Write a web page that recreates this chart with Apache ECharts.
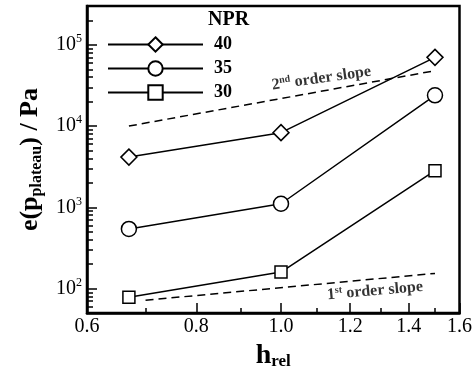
<!DOCTYPE html>
<html>
<head>
<meta charset="utf-8">
<script src="https://cdn.jsdelivr.net/npm/echarts@6/dist/echarts.min.js"></script>
<style>html,body{margin:0;padding:0;background:#fff}#c{width:475px;height:375px}</style>
</head>
<body>
<div id="c"></div>
<script>
// ---- data ----
const hRel = [0.67, 1.0, 1.5];
const npr40 = [4150, 8300, 70000];
const npr35 = [543, 1107, 23900];
const npr30 = [78.5, 160, 2830];
const slope2X = [0.67, 1.5];
const slope2Y = [10000, 48000];
const slope1X = [0.7, 1.5];
const slope1Y = [72, 154];
const xTicks = [0.6, 0.8, 1.0, 1.2, 1.4, 1.6];
const xMinorTicks = [0.7, 0.9, 1.1, 1.3, 1.5];
const yTicks = [100, 1000, 10000, 100000];
const xRange = [0.6, 1.6];
const yRange = [50, 300000];
const legendNames = ['40', '35', '30'];
// annotation anchors (data coords) for the slope texts
const noteX = [1.112, 1.281];
const noteY = [38500, 93.7];

const L = Math.log10;
const F = 'Liberation Serif';
const yMinorTicks = [];
for (let d = 10; d <= 100000; d *= 10) {
  for (let k = 2; k <= 9; k++) {
    const v = k * d;
    if (v > yRange[0] && v < yRange[1]) yMinorTicks.push(v);
  }
}
const pts = (xs, ys) => xs.map((x, i) => [L(x), L(ys[i])]);

const lineSeries = (name, ys, symbol, size) => ({
  name: name, type: 'line', data: pts(hRel, ys),
  symbol: symbol, symbolSize: size, showSymbol: true,
  lineStyle: {color: '#000', width: 1.5},
  itemStyle: {color: '#fff', borderColor: '#000', borderWidth: 1.5},
  z: 3
});
const dashSeries = (xs, ys) => ({
  type: 'line', data: pts(xs, ys), symbol: 'none', silent: true,
  lineStyle: {color: '#000', width: 1.5, type: [8, 5]}, z: 2
});

const chart = echarts.init(document.getElementById('c'));
chart.setOption({
  animation: false,
  backgroundColor: '#fff',
  title: {
    text: 'NPR', left: 208, top: 10, padding: 0,
    textStyle: {fontFamily: F, fontSize: 20, fontWeight: 'bold', color: '#000'}
  },
  legend: {
    orient: 'vertical', left: 107, top: 35.5, padding: 0,
    itemWidth: 95, itemHeight: 18, itemGap: 6, selectedMode: false,
    data: legendNames,
    textStyle: {fontFamily: F, fontSize: 18, fontWeight: 'bold', color: '#000', lineHeight: 18, padding: [0, 0, 0, 6]}
  },
  grid: {left: 87, right: 13, top: 6, bottom: 59, show: true, borderColor: '#000', borderWidth: 2.5},
  xAxis: [{
    type: 'value', min: L(xRange[0]), max: L(xRange[1]),
    axisLine: {show: true, onZero: false, lineStyle: {color: '#000', width: 2.5}},
    splitLine: {show: false},
    axisTick: {show: true, inside: true, length: 10, customValues: xTicks.map(L), lineStyle: {color: '#000', width: 1.5}},
    axisLabel: {show: true, customValues: xTicks.map(L), margin: 4,
      formatter: v => Math.pow(10, v).toFixed(1), color: '#000', fontFamily: F, fontSize: 20},
    name: '{m|h}{s|rel}', nameLocation: 'middle', nameGap: 15,
    nameTextStyle: {rich: {
      m: {fontFamily: F, fontSize: 28, fontWeight: 'bold', color: '#000', lineHeight: 28},
      s: {fontFamily: F, fontSize: 17, fontWeight: 'bold', color: '#000', verticalAlign: 'bottom', lineHeight: 17}
    }}
  }, {
    type: 'value', min: L(xRange[0]), max: L(xRange[1]), position: 'bottom',
    axisLine: {show: false, onZero: false}, splitLine: {show: false}, axisLabel: {show: false},
    axisTick: {show: true, inside: true, length: 5, customValues: xMinorTicks.map(L), lineStyle: {color: '#000', width: 1.5}}
  }],
  yAxis: [{
    type: 'value', min: L(yRange[0]), max: L(yRange[1]),
    axisLine: {show: true, onZero: false, lineStyle: {color: '#000', width: 2.5}},
    splitLine: {show: false},
    axisTick: {show: true, inside: true, length: 10, customValues: yTicks.map(L), lineStyle: {color: '#000', width: 1.5}},
    axisLabel: {show: true, customValues: yTicks.map(L), margin: 5,
      formatter: v => '{m|10}{s|' + Math.round(v) + '}',
      rich: {
        m: {fontFamily: F, fontSize: 20, color: '#000', lineHeight: 24},
        s: {fontFamily: F, fontSize: 12, color: '#000', verticalAlign: 'top', lineHeight: 12}
      }},
    name: '{m|e(p}{s|plateau}{m|) / Pa}', nameLocation: 'middle', nameGap: 42,
    nameTextStyle: {rich: {
      m: {fontFamily: F, fontSize: 26, fontWeight: 'bold', color: '#000', lineHeight: 30},
      s: {fontFamily: F, fontSize: 16, fontWeight: 'bold', color: '#000', verticalAlign: 'bottom', lineHeight: 16}
    }}
  }, {
    type: 'value', min: L(yRange[0]), max: L(yRange[1]), position: 'left',
    axisLine: {show: false, onZero: false}, splitLine: {show: false}, axisLabel: {show: false},
    axisTick: {show: true, inside: true, length: 6, customValues: yMinorTicks.map(L), lineStyle: {color: '#000', width: 1.5}}
  }],
  series: [
    lineSeries('40', npr40, 'diamond', 16),
    lineSeries('35', npr35, 'circle', 15),
    lineSeries('30', npr30, 'rect', 12),
    dashSeries(slope2X, slope2Y),
    dashSeries(slope1X, slope1Y),
    {
      type: 'scatter', symbolSize: 0, silent: true, z: 4,
      data: [
        {value: [L(noteX[0]), L(noteY[0])], label: {formatter: '{a|2}{b|nd}{a| order slope}', rotate: 8}},
        {value: [L(noteX[1]), L(noteY[1])], label: {formatter: '{a|1}{b|st}{a| order slope}', rotate: 5}}
      ],
      label: {show: true, position: 'inside', color: '#000',
        rich: {
          a: {fontFamily: F, fontSize: 16, fontWeight: 'bold', color: '#000', lineHeight: 18},
          b: {fontFamily: F, fontSize: 10, fontWeight: 'bold', color: '#000', verticalAlign: 'top', lineHeight: 10}
        }}
    }
  ]
});
</script>
</body>
</html>
